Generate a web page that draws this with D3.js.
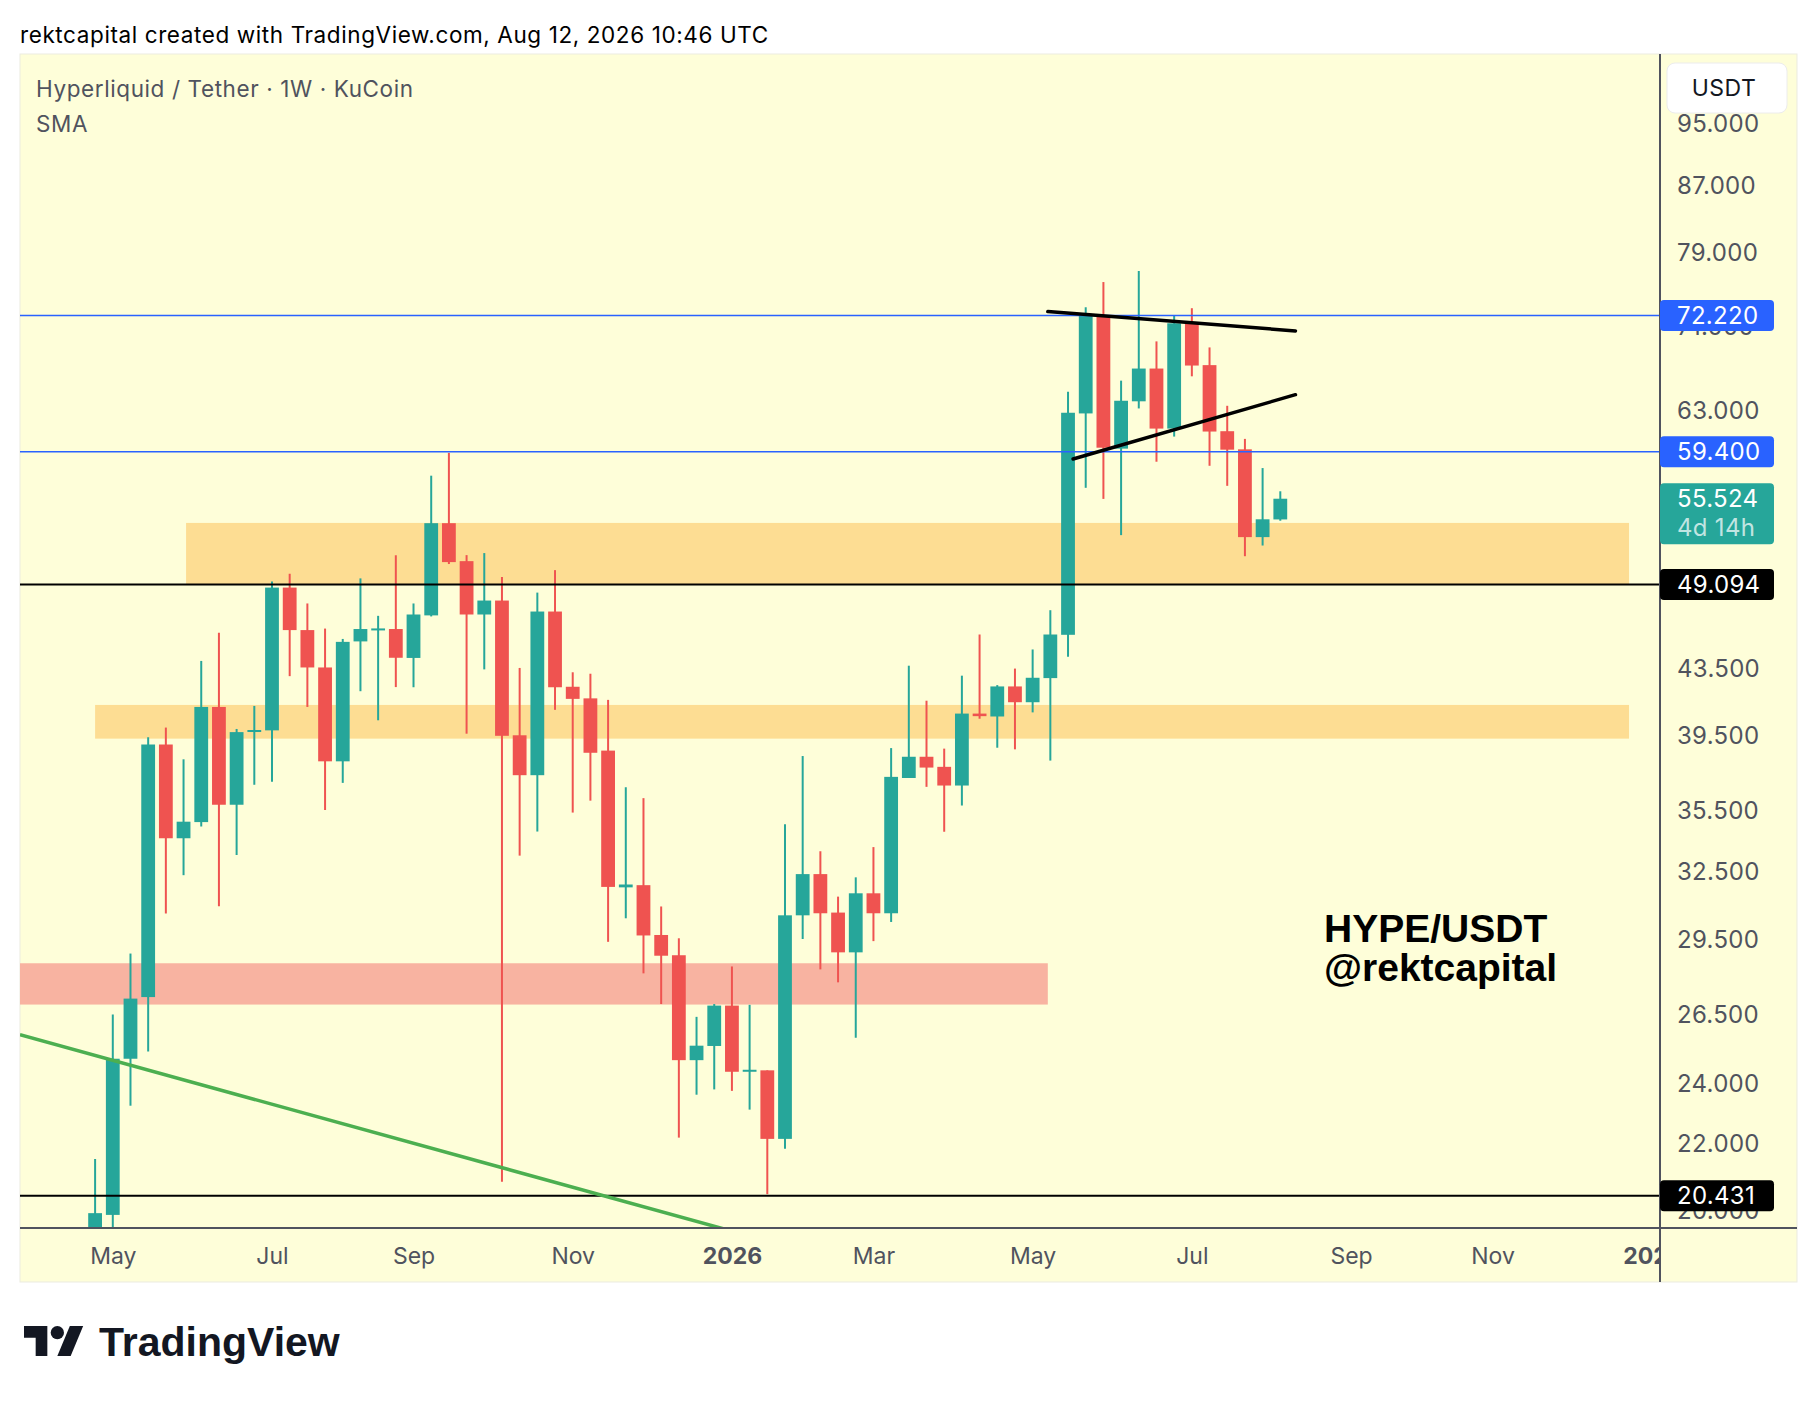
<!DOCTYPE html>
<html>
<head>
<meta charset="utf-8">
<script src="https://cdn.jsdelivr.net/npm/d3@7"></script>
<style>
  body { margin: 0; background: #ffffff; }
  svg { display: block; }
</style>
</head>
<body>
<div id="chart"></div>
<script>

    // weekly candles, HYPE/USDT on KuCoin (week start, Monday)
var weeks = [
    "2025-04-28", "2025-05-05", "2025-05-12", "2025-05-19", "2025-05-26", "2025-06-02", "2025-06-09",
    "2025-06-16", "2025-06-23", "2025-06-30", "2025-07-07", "2025-07-14", "2025-07-21", "2025-07-28",
    "2025-08-04", "2025-08-11", "2025-08-18", "2025-08-25", "2025-09-01", "2025-09-08", "2025-09-15",
    "2025-09-22", "2025-09-29", "2025-10-06", "2025-10-13", "2025-10-20", "2025-10-27", "2025-11-03",
    "2025-11-10", "2025-11-17", "2025-11-24", "2025-12-01", "2025-12-08", "2025-12-15", "2025-12-22",
    "2025-12-29", "2026-01-05", "2026-01-12", "2026-01-19", "2026-01-26", "2026-02-02", "2026-02-09",
    "2026-02-16", "2026-02-23", "2026-03-02", "2026-03-09", "2026-03-16", "2026-03-23", "2026-03-30",
    "2026-04-06", "2026-04-13", "2026-04-20", "2026-04-27", "2026-05-04", "2026-05-11", "2026-05-18",
    "2026-05-25", "2026-06-01", "2026-06-08", "2026-06-15", "2026-06-22", "2026-06-29", "2026-07-06",
    "2026-07-13", "2026-07-20", "2026-07-27", "2026-08-03", "2026-08-10"
];
var opens = [
    18.6, 19.88, 24.87, 27.17, 39.03, 34.12, 34.92, 41.19, 35.80, 39.75,
    39.83, 48.88, 45.99, 43.59, 38.10, 45.25, 46.00, 46.06, 44.19, 46.97,
    53.61, 50.77, 47.03, 47.98, 39.55, 37.35, 47.23, 42.40, 41.70, 38.69,
    31.80, 31.90, 29.70, 28.85, 24.82, 25.33, 26.84, 24.41, 24.46, 22.17,
    30.55, 32.41, 30.67, 28.97, 31.53, 30.64, 37.20, 38.35, 37.80, 36.80,
    40.80, 40.63, 42.42, 41.47, 42.93, 45.68, 62.75, 72.17, 59.66, 63.85,
    66.92, 61.40, 71.41, 67.25, 61.17, 59.60, 52.55, 53.90
];
var highs = [
    21.54, 26.50, 28.92, 39.44, 39.99, 38.21, 44.00, 45.82, 39.91, 41.25,
    49.31, 49.86, 47.78, 46.09, 45.41, 49.53, 46.94, 51.20, 47.78, 57.39,
    59.30, 51.21, 51.36, 49.62, 43.56, 48.53, 50.12, 43.29, 43.20, 41.61,
    36.71, 36.14, 30.94, 29.56, 26.41, 26.90, 28.39, 26.87, 24.46, 34.81,
    38.39, 33.49, 31.38, 32.26, 33.69, 38.83, 43.70, 41.56, 38.80, 43.08,
    45.70, 42.50, 43.52, 44.73, 47.32, 64.74, 73.07, 75.76, 65.77, 76.97,
    69.58, 72.17, 72.97, 68.98, 63.44, 60.50, 58.02, 56.12
];
var lows = [
    18.2, 19.51, 23.25, 25.13, 30.63, 32.36, 34.70, 30.95, 33.31, 36.84,
    37.00, 43.05, 41.19, 35.53, 36.94, 42.13, 40.41, 42.38, 42.37, 46.90,
    50.56, 39.64, 43.47, 20.85, 33.28, 34.45, 41.02, 35.40, 36.01, 29.41,
    30.42, 28.11, 26.90, 22.21, 23.62, 23.80, 23.75, 23.12, 20.48, 21.86,
    29.53, 28.27, 27.75, 25.63, 29.44, 30.26, 37.20, 36.73, 34.44, 35.76,
    40.50, 38.85, 38.76, 40.87, 38.14, 44.26, 56.40, 55.51, 52.70, 63.20,
    58.55, 60.70, 66.18, 58.21, 56.56, 51.13, 51.92, 53.80
];
var closes = [
    19.93, 24.87, 27.11, 39.03, 34.12, 34.94, 41.19, 35.80, 39.73, 39.85,
    48.88, 45.99, 43.59, 38.10, 45.22, 46.06, 46.10, 44.20, 47.03, 53.61,
    50.70, 47.03, 47.98, 39.52, 37.35, 47.23, 42.37, 41.67, 38.57, 31.82,
    31.93, 29.68, 28.83, 24.82, 25.34, 26.84, 24.41, 24.48, 22.17, 30.55,
    32.41, 30.64, 28.97, 31.53, 30.64, 37.26, 38.35, 37.76, 36.80, 40.80,
    40.65, 42.42, 41.47, 42.95, 45.70, 62.81, 72.17, 59.74, 63.90, 66.92,
    61.40, 71.41, 67.21, 61.14, 59.57, 52.55, 53.91, 55.524
];

    // price axis ticks and time axis ticks
var priceTicks = [95, 87, 79, 71, 63, 43.5, 39.5, 35.5, 32.5, 29.5, 26.5, 24, 22, 20];
var timeTicks = ["2025-05-05", "2025-07-07", "2025-09-01", "2025-11-03", "2026-01-05", "2026-03-02",
                 "2026-05-04", "2026-07-06", "2026-09-07", "2026-11-02", "2027-01-04"];
var timeTickLabels = ["May", "Jul", "Sep", "Nov", "2026", "Mar", "May", "Jul", "Sep", "Nov", "2027"];

    // horizontal levels
var blueLevels = [72.22, 59.4];
var blackLevels = [49.094, 20.431];
var lastPrice = 55.524;
var lastCountdown = "4d 14h";

    // rectangles: from / to / low / high
var zoneFrom = ["2025-06-03", "2025-04-28", "2025-03-01"];
var zoneTo = ["2026-12-26", "2026-12-26", "2026-05-10"];
var zoneLow = [49.094, 39.36, 26.88];
var zoneHigh = [53.63, 41.31, 28.52];

    // trend lines (two anchors each)
var triUpperDates = ["2026-05-10", "2026-08-16"];
var triUpperPrices = [72.62, 70.63];
var triLowerDates = ["2026-05-20", "2026-08-16"];
var triLowerPrices = [58.78, 64.46];
var trendDates = ["2025-04-18", "2025-12-31"];
var trendPrices = [25.24, 19.52];


var W = 1814, H = 1402;
var panel = {left: 20, top: 54, right: 1797, bottom: 1282};
var plot = {left: 20, top: 54, right: 1660, bottom: 1228};
var UP = "#26a69a", DOWN = "#ef5350";
var AXIS = "#50535e";
var UIFONT = "Inter, 'Noto Sans', sans-serif";

var svg = d3.select("#chart").append("svg")
    .attr("width", W)
    .attr("height", H)
    .style("background", "#ffffff");

var parse = d3.utcParse("%Y-%m-%d");

var x = d3.scaleUtc()
    .domain([parse(weeks[0]), parse(weeks[weeks.length - 1])])
    .range([95.1, 1280.3]);

var y = d3.scaleLog()
    .domain([19.51, 105.07])
    .range([plot.bottom, plot.top]);

    // header line
svg.append("text")
    .attr("x", 20).attr("y", 43)
    .style("font-family", UIFONT).style("font-size", "22.5px")
    .style("letter-spacing", "0.6px")
    .attr("fill", "#000")
    .text("rektcapital created with TradingView.com, Aug 12, 2026 10:46 UTC");

    // chart panel
svg.append("rect")
    .attr("x", panel.left).attr("y", panel.top)
    .attr("width", panel.right - panel.left).attr("height", panel.bottom - panel.top)
    .attr("fill", "#fefed9")
    .attr("stroke", "#ebebe0").attr("stroke-width", 1);

var defs = svg.append("defs");
defs.append("clipPath").attr("id", "plotclip")
    .append("rect")
    .attr("x", plot.left).attr("y", plot.top)
    .attr("width", plot.right - plot.left).attr("height", plot.bottom - plot.top);
defs.append("clipPath").attr("id", "timeclip")
    .append("rect")
    .attr("x", plot.left).attr("y", plot.bottom)
    .attr("width", plot.right - plot.left).attr("height", panel.bottom - plot.bottom);

var plotG = svg.append("g").attr("clip-path", "url(#plotclip)");

    // zones behind the candles
var zoneColors = ["#fddd93", "#fddd93", "#f8b3a1"];
zoneFrom.forEach(function(d, i) {
    var x0 = x(parse(d)), x1 = x(parse(zoneTo[i]));
    plotG.append("rect")
        .attr("x", x0).attr("y", y(zoneHigh[i]))
        .attr("width", x1 - x0).attr("height", y(zoneLow[i]) - y(zoneHigh[i]))
        .attr("fill", zoneColors[i]);
});

    // candles
var step = x(parse(weeks[1])) - x(parse(weeks[0]));
var bodyW = step * 0.78;
var candles = plotG.append("g");
weeks.forEach(function(w, i) {
    var cx = x(parse(w));
    var up = closes[i] >= opens[i];
    var col = up ? UP : DOWN;
    candles.append("line")
        .attr("x1", cx).attr("x2", cx)
        .attr("y1", y(highs[i])).attr("y2", y(lows[i]))
        .attr("stroke", col).attr("stroke-width", 2);
    var top = y(Math.max(opens[i], closes[i]));
    var bot = y(Math.min(opens[i], closes[i]));
    candles.append("rect")
        .attr("x", cx - bodyW / 2).attr("y", top)
        .attr("width", bodyW).attr("height", Math.max(bot - top, 2))
        .attr("fill", col);
});

    // horizontal levels
blueLevels.forEach(function(p) {
    plotG.append("line")
        .attr("x1", plot.left).attr("x2", plot.right)
        .attr("y1", y(p)).attr("y2", y(p))
        .attr("stroke", "#2962ff").attr("stroke-width", 1.5);
});
blackLevels.forEach(function(p) {
    plotG.append("line")
        .attr("x1", plot.left).attr("x2", plot.right)
        .attr("y1", y(p)).attr("y2", y(p))
        .attr("stroke", "#000").attr("stroke-width", 2);
});

    // extend a two anchor line across the plot
function extendLine(dates, prices) {
    var x0 = x(parse(dates[0])), y0 = y(prices[0]);
    var x1 = x(parse(dates[1])), y1 = y(prices[1]);
    var k = (y1 - y0) / (x1 - x0);
    return [[plot.left, y0 + (plot.left - x0) * k], [plot.right, y0 + (plot.right - x0) * k]];
}

var trend = extendLine(trendDates, trendPrices);
plotG.append("line")
    .attr("x1", trend[0][0]).attr("y1", trend[0][1])
    .attr("x2", trend[1][0]).attr("y2", trend[1][1])
    .attr("stroke", "#4caf50").attr("stroke-width", 3.5);

[[triUpperDates, triUpperPrices], [triLowerDates, triLowerPrices]].forEach(function(t) {
    plotG.append("line")
        .attr("x1", x(parse(t[0][0]))).attr("y1", y(t[1][0]))
        .attr("x2", x(parse(t[0][1]))).attr("y2", y(t[1][1]))
        .attr("stroke", "#000").attr("stroke-width", 3.5)
        .attr("stroke-linecap", "round");
});

    // pair label on the chart
var tag = svg.append("text")
    .style("font-family", "'Liberation Sans', Arial, sans-serif")
    .style("font-size", "39px").style("font-weight", "bold")
    .attr("fill", "#000");
tag.append("tspan").attr("x", 1324).attr("y", 942).text("HYPE/USDT");
tag.append("tspan").attr("x", 1324).attr("y", 981).text("@rektcapital");

    // legend
svg.append("text")
    .attr("x", 36).attr("y", 97)
    .style("font-family", UIFONT).style("font-size", "22.5px")
    .style("letter-spacing", "0.6px")
    .attr("fill", AXIS)
    .text("Hyperliquid / Tether \u00b7 1W \u00b7 KuCoin");
svg.append("text")
    .attr("x", 36).attr("y", 132)
    .style("font-family", UIFONT).style("font-size", "22.5px")
    .style("letter-spacing", "0.6px")
    .attr("fill", AXIS)
    .text("SMA");

    // axis lines
svg.append("line")
    .attr("x1", plot.right).attr("x2", plot.right)
    .attr("y1", panel.top).attr("y2", panel.bottom)
    .attr("stroke", AXIS).attr("stroke-width", 2);
svg.append("line")
    .attr("x1", plot.left).attr("x2", panel.right)
    .attr("y1", plot.bottom).attr("y2", plot.bottom)
    .attr("stroke", AXIS).attr("stroke-width", 2);

    // price axis labels
var yAxis = d3.axisRight(y)
    .tickValues(priceTicks)
    .tickSize(0)
    .tickPadding(17)
    .tickFormat(d3.format(".3f"));
var yAxisG = svg.append("g")
    .attr("transform", "translate(" + plot.right + ",0)")
    .call(yAxis);
yAxisG.select(".domain").remove();
yAxisG.selectAll("text")
    .style("font-family", UIFONT).style("font-size", "24px")
    .style("letter-spacing", "0.3px")
    .attr("fill", AXIS);

    // time axis labels
var xAxis = d3.axisBottom(x)
    .tickValues(timeTicks.map(parse))
    .tickSize(0)
    .tickPadding(0)
    .tickFormat(function(d, i) { return timeTickLabels[i]; });
var xAxisG = svg.append("g")
    .attr("clip-path", "url(#timeclip)")
    .append("g")
    .attr("transform", "translate(0," + plot.bottom + ")")
    .call(xAxis);
xAxisG.select(".domain").remove();
xAxisG.selectAll("text")
    .attr("dy", null).attr("y", 36)
    .style("font-family", UIFONT).style("font-size", "23px")
    .attr("fill", AXIS)
    .style("font-weight", function(d, i) { return /^\d+$/.test(timeTickLabels[i]) ? "bold" : "normal"; });

    // price badges on the axis
function drawBadge(price, fill, label, h, extra) {
    var cy = y(price);
    var g = svg.append("g");
    g.append("rect")
        .attr("x", plot.right).attr("y", cy - 15.5)
        .attr("width", 114).attr("height", h)
        .attr("rx", 4)
        .attr("fill", fill);
    g.append("text")
        .attr("x", plot.right + 17).attr("y", cy + 8.5)
        .style("font-family", UIFONT).style("font-size", "24px")
        .style("letter-spacing", "0.3px")
        .attr("fill", "#fff")
        .text(label);
    if (extra) {
        g.append("text")
            .attr("x", plot.right + 17).attr("y", cy + 37)
            .style("font-family", UIFONT).style("font-size", "24px")
            .style("letter-spacing", "0.3px")
            .attr("fill", "#fff").attr("fill-opacity", 0.72)
            .text(extra);
    }
}
var fmt = d3.format(".3f");
blueLevels.forEach(function(p) { drawBadge(p, "#2962ff", fmt(p), 31); });
drawBadge(lastPrice, UP, fmt(lastPrice), 61, lastCountdown);
blackLevels.forEach(function(p) { drawBadge(p, "#000", fmt(p), 31); });

    // currency button
svg.append("rect")
    .attr("x", 1667).attr("y", 63)
    .attr("width", 120).attr("height", 50)
    .attr("rx", 8)
    .attr("fill", "#fff").attr("stroke", "#ececec");
svg.append("text")
    .attr("x", 1724).attr("y", 96)
    .attr("text-anchor", "middle")
    .style("font-family", UIFONT).style("font-size", "23px")
    .style("letter-spacing", "0.5px")
    .attr("fill", "#131722")
    .text("USDT");

    // TradingView logo
var logo = svg.append("g").attr("transform", "translate(24,1319.3) scale(1.667)");
logo.append("path").attr("d", "M14 22H7V11H0V4h14v18z").attr("fill", "#131722");
logo.append("path").attr("d", "M28 22h-8l7.5-18h8L28 22z").attr("fill", "#131722");
logo.append("circle").attr("cx", 20).attr("cy", 8).attr("r", 4).attr("fill", "#131722");
svg.append("text")
    .attr("x", 99).attr("y", 1356)
    .style("font-family", "'Liberation Sans', Arial, sans-serif")
    .style("font-size", "41px").style("font-weight", "bold")
    .attr("fill", "#131722")
    .text("TradingView");

</script>
</body>
</html>
